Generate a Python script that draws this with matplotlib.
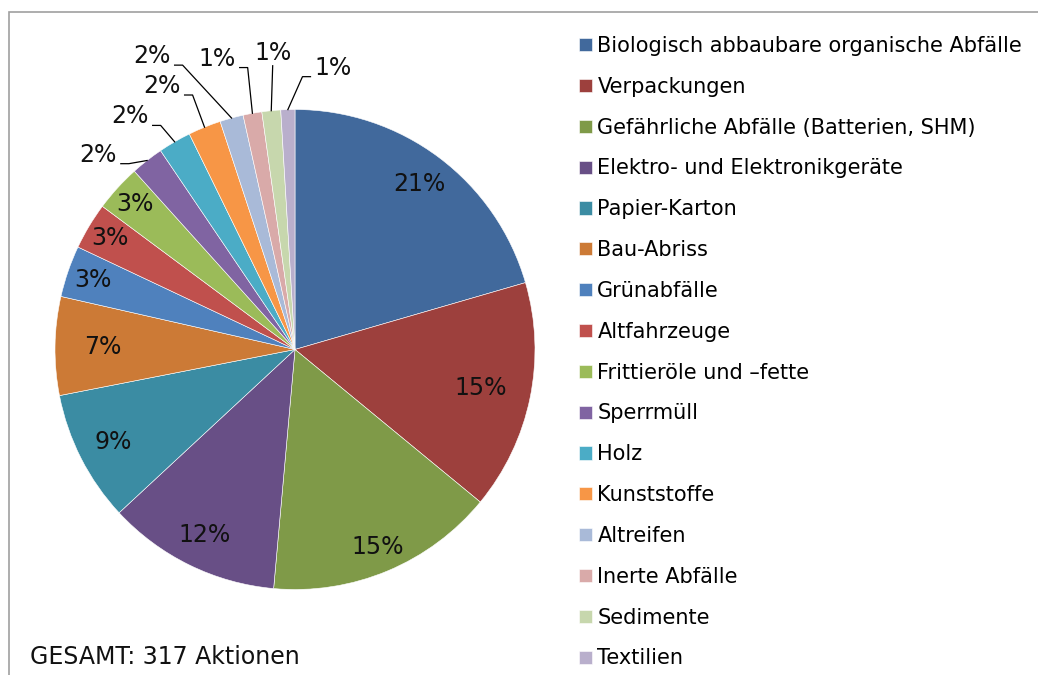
import numpy as np
import matplotlib.pyplot as plt
from matplotlib.patches import Rectangle

plt.rcParams['font.family'] = ['DejaVu Sans']

categories = [
    "Biologisch abbaubare organische Abfälle",
    "Verpackungen",
    "Gefährliche Abfälle (Batterien, SHM)",
    "Elektro- und Elektronikgeräte",
    "Papier-Karton",
    "Bau-Abriss",
    "Grünabfälle",
    "Altfahrzeuge",
    "Frittieröle und –fette",
    "Sperrmüll",
    "Holz",
    "Kunststoffe",
    "Altreifen",
    "Inerte Abfälle",
    "Sedimente",
    "Textilien",
]
counts = [65, 49, 49, 37, 28, 21, 11, 10, 10, 7, 7, 7, 5, 4, 4, 3]
colors = ["#41699c", "#9d403d", "#7f9a48", "#684f86", "#3b8ca3", "#cc7a36",
          "#4f81bd", "#c0504d", "#9bbb59", "#8064a2", "#4bacc6", "#f79646",
          "#a9bad8", "#d9aaa9", "#c7d7ad", "#b9afcc"]
total_text = "GESAMT: 317 Aktionen"

# label layout: inside labels -> fraction of radius along wedge middle,
# outside labels -> (clockwise angle from top, fraction of radius)
inside_dist = [0.86, 0.79, 0.89, 0.86, 0.85, 0.80, 0.89, 0.90, 0.90]
outside_pos = [(314.7, 1.154), (324.7, 1.19), (333.2, 1.23), (334.0, 1.36),
               (345.0, 1.255), (355.7, 1.24), (7.7, 1.185)]

W, H = 1038, 675
fig = plt.figure(figsize=(W / 100, H / 100), dpi=100)
ax = fig.add_axes([0, 0, 1, 1])

cx, cy, r = 295, H - 349.5, 240
wedges, _ = ax.pie(counts, colors=colors, startangle=90, counterclock=False,
                   center=(cx, cy), radius=r,
                   wedgeprops=dict(edgecolor='white', linewidth=0.4))
ax.set_xlim(0, W)
ax.set_ylim(0, H)
ax.set_aspect('equal')
ax.axis('off')

pct = np.array(counts) / sum(counts) * 100
lab_fs = 17


def polar(angle_cw, dist):
    a = np.deg2rad(angle_cw)
    return cx + dist * np.sin(a), cy + dist * np.cos(a)


n_in = len(inside_dist)
for i, w in enumerate(wedges[:n_in]):
    mid = 90 - (w.theta1 + w.theta2) / 2
    x, y = polar(mid, inside_dist[i] * r)
    ax.text(x, y, f"{pct[i]:.0f}%", ha='center', va='center', fontsize=lab_fs, color='#111111')

fig.canvas.draw()
renderer = fig.canvas.get_renderer()
for j, w in enumerate(wedges[n_in:]):
    i = n_in + j
    mid = 90 - (w.theta1 + w.theta2) / 2
    axp, ayp = polar(mid, r)
    tx, ty = polar(outside_pos[j][0], outside_pos[j][1] * r)
    t = ax.text(tx, ty, f"{pct[i]:.0f}%", ha='center', va='center', fontsize=lab_fs, color='#111111')
    bb = t.get_window_extent(renderer)
    half = bb.width / 2
    if abs(tx - axp) < 12:
        xs, ys = [tx, axp], [ty - 13, ayp]
    elif tx < axp:
        xs = [tx + half + 4, tx + half + 12, axp]
        ys = [ty - 9, ty - 9, ayp]
    else:
        xs = [tx - half - 4, tx - half - 12, axp]
        ys = [ty - 9, ty - 9, ayp]
    ax.plot(xs, ys, color='black', lw=0.9)

ax.legend(wedges, categories, loc='upper left', bbox_to_anchor=(579 / W, 1 - 36 / H),
          frameon=False, fontsize=15, handlelength=0.6, handleheight=0.6,
          handletextpad=0.28, labelspacing=1.0, borderpad=0, borderaxespad=0)

ax.text(30, H - 657, total_text, ha='left', va='center', fontsize=17, color='#111111')

ax.add_patch(Rectangle((8.5, -10), W + 20, H - 12 + 10, fill=False,
                       edgecolor='#a0a0a0', lw=1.2, clip_on=False))

fig.savefig("out.png", dpi=100)
